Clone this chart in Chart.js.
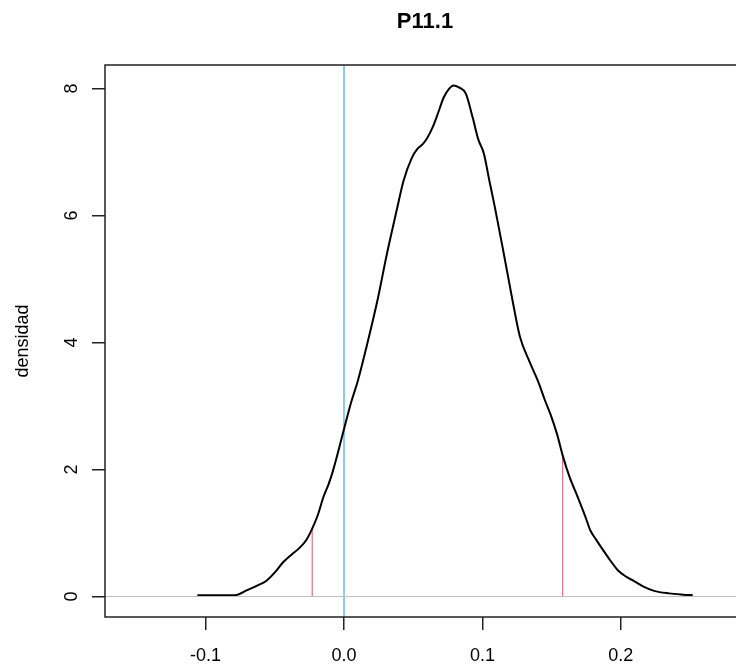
<!DOCTYPE html>
<html>
<head>
<meta charset="utf-8">
<title>P11.1</title>
<script src="https://cdn.jsdelivr.net/npm/chart.js@4"></script>
<style>
  html, body { margin: 0; padding: 0; background: #fff; overflow: hidden; }
  #wrap { width: 850px; height: 667px; }
</style>
</head>
<body>
<div id="wrap"><canvas id="densityChart" width="850" height="667"></canvas></div>
<script>
// density curve
const densX = [-0.106, -0.079, -0.070, -0.062, -0.056, -0.050, -0.044, -0.038, -0.032, -0.027,
  -0.023, -0.019, -0.015, -0.011, -0.008, -0.004, 0.000, 0.005, 0.010, 0.017,
  0.024, 0.031, 0.038, 0.043, 0.049, 0.053, 0.057, 0.060, 0.064, 0.068,
  0.072, 0.076, 0.079, 0.083, 0.088, 0.093, 0.097, 0.101, 0.105, 0.109,
  0.115, 0.121, 0.127, 0.134, 0.140, 0.145, 0.149, 0.154, 0.158, 0.163,
  0.169, 0.174, 0.178, 0.182, 0.186, 0.192, 0.198, 0.204, 0.209, 0.216,
  0.224, 0.235, 0.245, 0.252];
const densY = [0.02, 0.02, 0.10, 0.18, 0.25, 0.38, 0.54, 0.66, 0.77, 0.90,
  1.07, 1.28, 1.56, 1.78, 1.98, 2.30, 2.64, 3.05, 3.40, 4.00,
  4.65, 5.40, 6.08, 6.55, 6.91, 7.05, 7.13, 7.22, 7.39, 7.62,
  7.86, 8.00, 8.05, 8.02, 7.92, 7.54, 7.20, 6.98, 6.55, 6.13,
  5.45, 4.75, 4.10, 3.70, 3.40, 3.10, 2.88, 2.55, 2.22, 1.88,
  1.56, 1.28, 1.04, 0.90, 0.77, 0.58, 0.41, 0.31, 0.25, 0.16,
  0.09, 0.05, 0.03, 0.02];

// interval limits (red) and their heights on the curve
const limitX = [-0.023, 0.158];
const limitY = [1.07, 2.22];
const refX = 0;

const xTicks = [-0.1, 0.0, 0.1, 0.2];
const yTicks = [0, 2, 4, 6, 8];
const xRange = [-0.1727, 0.2897];
const yRange = [-0.322, 8.372];

const titleText = 'P11.1';
const yTitle = 'densidad';

document.addEventListener("DOMContentLoaded", function() {
    const ctx = document.getElementById('densityChart').getContext('2d');
    const font = '"Liberation Sans", Arial, sans-serif';

    const curve = densX.map((x, i) => ({ x: x, y: densY[i] }));

    const datasets = [
        {
            data: [{ x: xRange[0], y: 0 }, { x: xRange[1], y: 0 }],
            borderColor: '#BEBEBE', borderWidth: 1
        },
        {
            data: curve,
            borderColor: '#000', borderWidth: 2,
            cubicInterpolationMode: 'monotone'
        }
    ];
    limitX.forEach((x, i) => {
        datasets.push({
            data: [{ x: x, y: 0 }, { x: x, y: limitY[i] }],
            borderColor: '#DF536B', borderWidth: 1
        });
    });
    datasets.push({
        data: [{ x: refX, y: yRange[0] }, { x: refX, y: yRange[1] }],
        borderColor: '#2297E6', borderWidth: 1
    });

    // R style frame, title and rotated y labels
    const rStyle = {
        id: 'rStyle',
        afterDraw(chart) {
            const c = chart.ctx;
            const a = chart.chartArea;
            const ys = chart.scales.y;
            c.save();
            c.strokeStyle = '#222';
            c.lineWidth = 1.5;
            c.strokeRect(a.left, a.top, a.right - a.left, a.bottom - a.top);

            c.fillStyle = '#000';
            c.font = 'bold 22px ' + font;
            c.textAlign = 'center';
            c.textBaseline = 'alphabetic';
            c.fillText(titleText, (a.left + a.right) / 2, 28);

            c.font = '18px ' + font;
            yTicks.forEach(v => {
                c.save();
                c.translate(77, ys.getPixelForValue(v));
                c.rotate(-Math.PI / 2);
                c.fillText(String(v), 0, 0);
                c.restore();
            });

            c.save();
            c.translate(28, (a.top + a.bottom) / 2);
            c.rotate(-Math.PI / 2);
            c.fillText(yTitle, 0, 0);
            c.restore();
            c.restore();
        }
    };

    new Chart(ctx, {
        type: 'line',
        data: { datasets: datasets },
        options: {
            responsive: false,
            animation: false,
            events: [],
            layout: { padding: { top: 65, left: 0, right: 105, bottom: 0 } },
            elements: {
                point: { radius: 0 },
                line: { tension: 0, fill: false }
            },
            plugins: {
                legend: { display: false },
                title: { display: false },
                tooltip: { enabled: false }
            },
            scales: {
                x: {
                    type: 'linear',
                    min: xRange[0],
                    max: xRange[1],
                    afterBuildTicks: s => { s.ticks = xTicks.map(v => ({ value: v })); },
                    afterFit: s => { s.height = 50; },
                    border: { display: false },
                    grid: {
                        drawOnChartArea: false,
                        drawTicks: true,
                        tickLength: 13,
                        color: '#222',
                        lineWidth: 1.5
                    },
                    ticks: {
                        autoSkip: false,
                        maxRotation: 0,
                        padding: 15,
                        color: '#000',
                        font: { family: font, size: 18 },
                        callback: v => Math.abs(v) < 1e-9 ? '0.0' : Number(v).toFixed(1)
                    }
                },
                y: {
                    type: 'linear',
                    min: yRange[0],
                    max: yRange[1],
                    afterBuildTicks: s => { s.ticks = yTicks.map(v => ({ value: v })); },
                    afterFit: s => { s.width = 105; },
                    border: { display: false },
                    grid: {
                        drawOnChartArea: false,
                        drawTicks: true,
                        tickLength: 13,
                        color: '#222',
                        lineWidth: 1.5
                    },
                    ticks: { display: false }
                }
            }
        },
        plugins: [rStyle]
    });
});
</script>
</body>
</html>
